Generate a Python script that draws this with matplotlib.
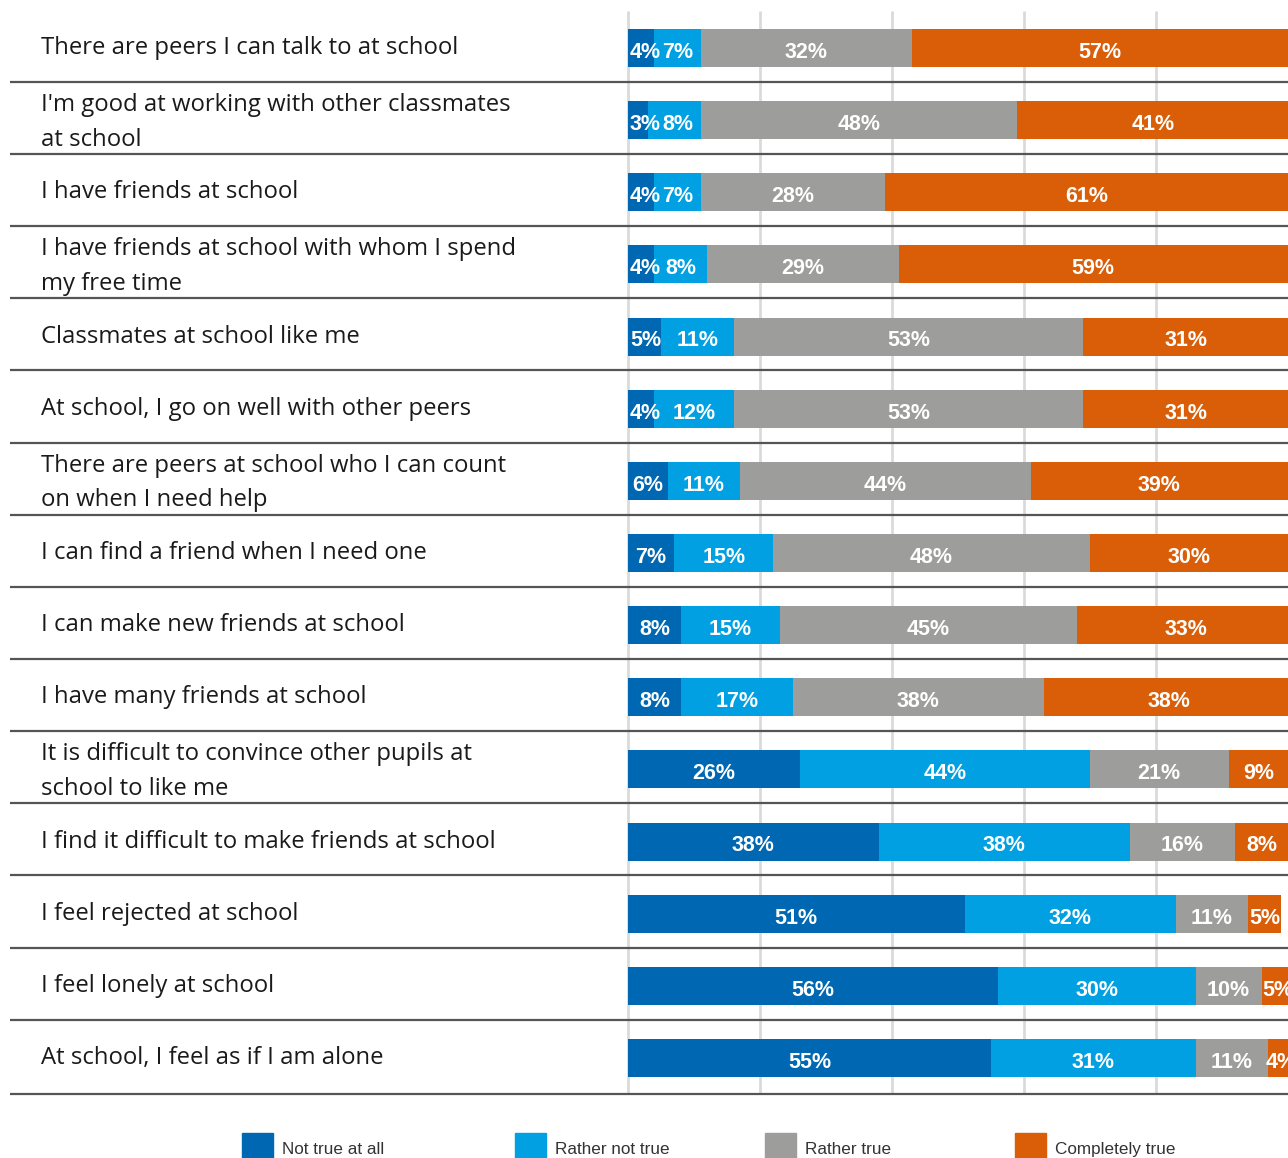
import matplotlib
matplotlib.use("Agg")
import matplotlib.pyplot as plt
from matplotlib.patches import Rectangle

# Survey statements (top to bottom)
statements = [
    "There are peers I can talk to at school",
    "I'm good at working with other classmates\nat school",
    "I have friends at school",
    "I have friends at school with whom I spend\nmy free time",
    "Classmates at school like me",
    "At school, I go on well with other peers",
    "There are peers at school who I can count\non when I need help",
    "I can find a friend when I need one",
    "I can make new friends at school",
    "I have many friends at school",
    "It is difficult to convince other pupils at\nschool to like me",
    "I find it difficult to make friends at school",
    "I feel rejected at school",
    "I feel lonely at school",
    "At school, I feel as if I am alone",
]

categories = ["Not true at all", "Rather not true", "Rather true", "Completely true"]

not_true_at_all = [4, 3, 4, 4, 5, 4, 6, 7, 8, 8, 26, 38, 51, 56, 55]
rather_not_true = [7, 8, 7, 8, 11, 12, 11, 15, 15, 17, 44, 38, 32, 30, 31]
rather_true = [32, 48, 28, 29, 53, 53, 44, 48, 45, 38, 21, 16, 11, 10, 11]
completely_true = [57, 41, 61, 59, 31, 31, 39, 30, 33, 38, 9, 8, 5, 5, 4]

series = [not_true_at_all, rather_not_true, rather_true, completely_true]
colors = ["#0068B2", "#00A0E2", "#9D9D9C", "#DA5E08"]

W, H = 1288, 1158
fig = plt.figure(figsize=(W / 100, H / 100), dpi=100)

# One axes spanning the whole canvas; x in percent, 0..100 occupies the right part
x0_px = 628
px_per_unit = (W - x0_px) / 100.0
xmin = -x0_px / px_per_unit
row0_px, row_step_px = 48, 72.14
ytop = -row0_px / row_step_px
ybot = (H - row0_px) / row_step_px

ax = fig.add_axes([0, 0, 1, 1])
ax.set_xlim(xmin, 100)
ax.set_ylim(ybot, ytop)
ax.axis("off")

n = len(statements)
bar_h = 38 / row_step_px

# vertical gridlines
for gx in [0, 20, 40, 60, 80]:
    ax.plot([gx, gx], [-0.51, n - 0.5], color="#DADADA", lw=2, zorder=0,
            solid_capstyle="butt")

# row separators
sep_x0 = (10 - x0_px) / px_per_unit
for i in range(n):
    yy = i + 0.47 if i < n - 1 else i + 0.5
    ax.plot([sep_x0, 100], [yy, yy], color="#555555", lw=1.6, zorder=1,
            solid_capstyle="butt")

# stacked bars
lefts = [0.0] * n
segs = []
for vals, col in zip(series, colors):
    ax.barh(range(n), vals, left=lefts, height=bar_h, color=col,
            edgecolor="none", zorder=2)
    segs.append([(l, v) for l, v in zip(lefts, vals)])
    lefts = [l + v for l, v in zip(lefts, vals)]

# statement labels
lab_x = (41 - x0_px) / px_per_unit
for i, s in enumerate(statements):
    dy = 0.03 if "\n" in s else 0.0
    ax.text(lab_x, i + dy, s, ha="left", va="center", fontsize=17.2,
            family="Open Sans", color="#1A1A1A", linespacing=1.58)

# value labels inside segments, nudged so neighbours do not overlap
fig.canvas.draw()
renderer = fig.canvas.get_renderer()
inv = ax.transData.inverted()
for i in range(n):
    prev_right = 0.1
    for k in range(len(series)):
        l, v = segs[k][i]
        t = ax.text(l + v / 2, i + 0.06, f"{v}%", ha="center", va="center",
                    fontsize=15.5, fontweight="bold", family="Liberation Sans",
                    color="white", zorder=3, clip_on=True)
        bb = t.get_window_extent(renderer)
        w = inv.transform((bb.x1, 0))[0] - inv.transform((bb.x0, 0))[0]
        cx = l + v / 2
        if cx - w / 2 < prev_right + 0.2:
            cx = prev_right + 0.2 + w / 2
        t.set_x(cx)
        prev_right = cx + w / 2

# legend along the bottom
leg_x = [242, 515, 765, 1015]
for px, lab, col in zip(leg_x, categories, colors):
    fig.patches.append(Rectangle((px / W, 0), 31 / W, 25 / H,
                                 transform=fig.transFigure, color=col))
    fig.text((px + 40) / W, 1 / H, lab, fontsize=12.3, family="Liberation Sans",
             color="#333333", ha="left", va="bottom")

fig.savefig("out.png", dpi=100)
